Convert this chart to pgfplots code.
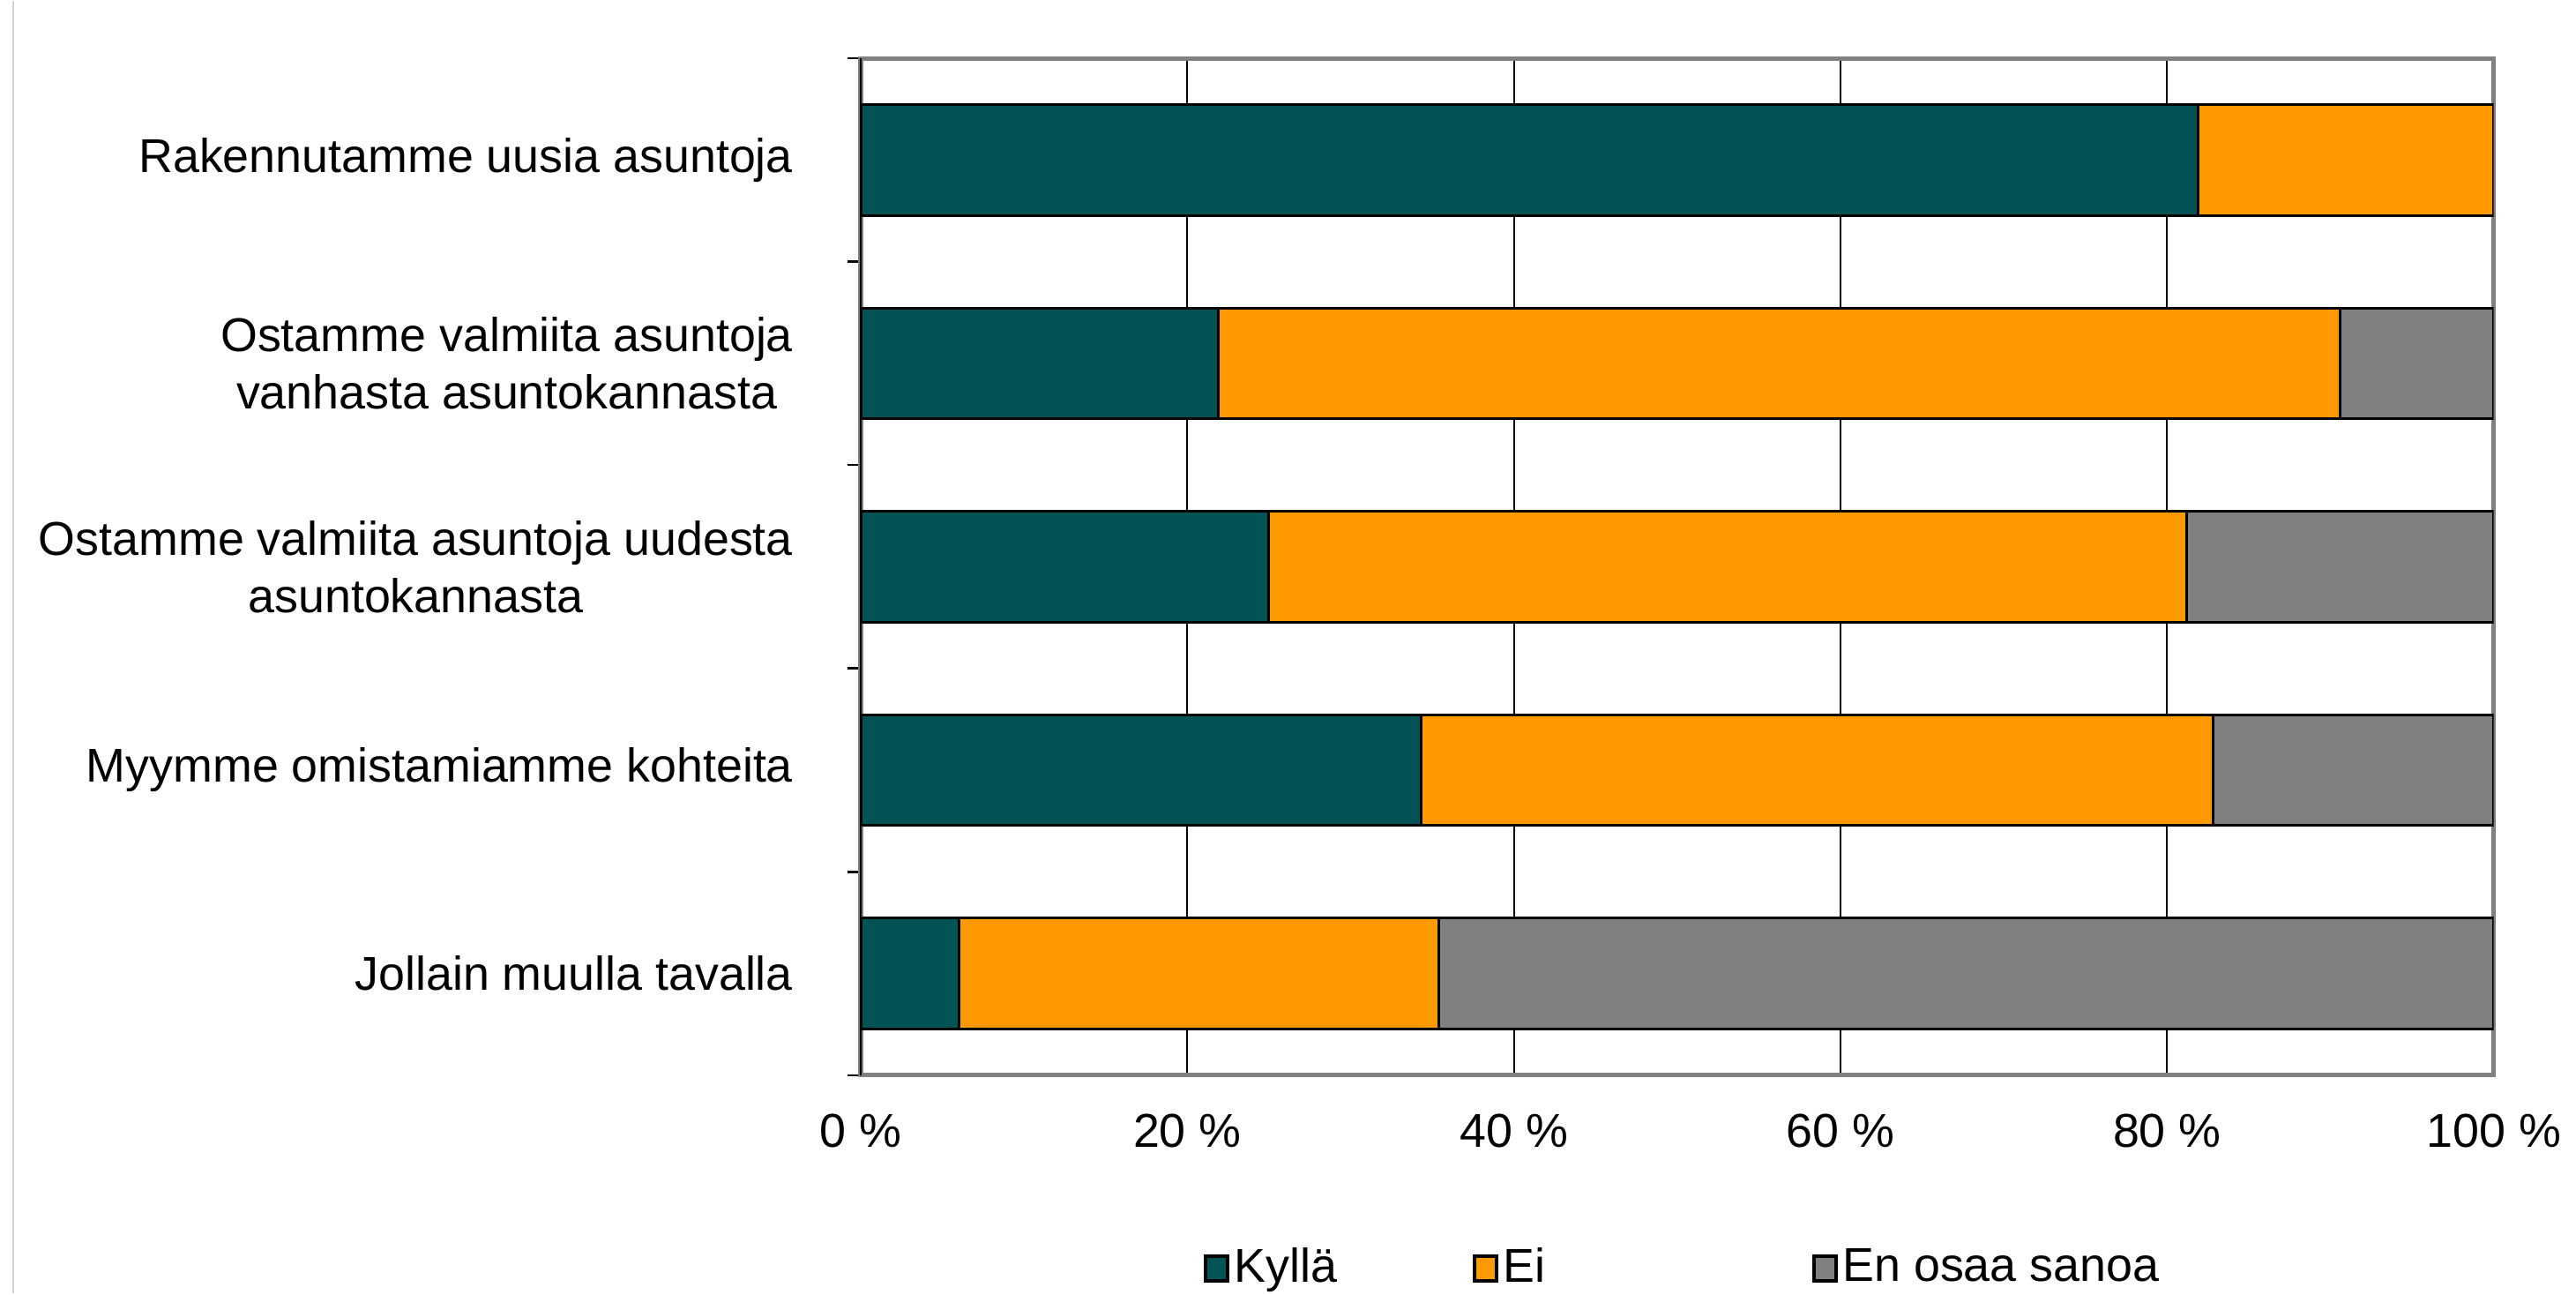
\documentclass[border=0pt]{standalone}
\usepackage{pgfplots}
\pgfplotsset{compat=1.18}
\usepackage{fontspec}
\setmainfont{Liberation Sans}
\definecolor{cteal}{RGB}{2,83,84}
\definecolor{corange}{RGB}{255,153,0}
\definecolor{cgray}{RGB}{128,128,128}
\begin{document}
\begin{tikzpicture}[font=\fontsize{10.5pt}{12.7pt}\selectfont]
\begin{axis}[
 name=ax,
 width=361.4pt, height=225pt, scale only axis,
 xbar stacked,
 bar width=0.545,
 xmin=0, xmax=100,
 ymin=-0.5, ymax=4.5,
 xtick={0,20,...,100},
 xticklabels={0 \%,20 \%,40 \%,60 \%,80 \%,100 \%},
 ytick={0,1,2,3,4},
 yticklabels={Jollain muulla tavalla, Myymme omistamiamme kohteita, {Ostamme valmiita asuntoja uudesta\\asuntokannasta}, {Ostamme valmiita asuntoja\\vanhasta asuntokannasta}, Rakennutamme uusia asuntoja},
 yticklabel style={align=center, xshift=-11.5pt, font=\fontsize{10.5pt}{12.7pt}\selectfont},
 xticklabel style={yshift=-5pt, font=\fontsize{10.5pt}{12.7pt}\selectfont},
 minor ytick={-0.5,0.5,1.5,2.5,3.5,4.5},
 major tick length=0pt,
 minor tick length=3pt,
 tick align=outside,
 tick pos=left,
 minor tick style={black, line width=0.5pt},
 xmajorgrids,
 grid style={black, line width=0.4pt},
 axis line style={draw=gray, line width=1pt},
 legend columns=3,
 legend style={at={(0.5,-0.19)}, anchor=center, xshift=1.4pt, draw=none, fill=none,
   inner sep=0pt, outer sep=0pt,
   font=\fontsize{10.5pt}{12.7pt}\selectfont, nodes={inner sep=1pt}},
 legend image code/.code={\draw[#1, draw=black, line width=0.8pt] (0pt,-2.7pt) rectangle (5pt,2.7pt);},
 every axis plot/.append style={draw=black, line width=0.6pt},
]
\addplot[fill=cteal] coordinates {(6.0,0) (34.3,1) (25.0,2) (21.9,3) (81.9,4)};
\addlegendentry{Kyllä\hspace*{29pt}}
\addplot[fill=corange] coordinates {(29.4,0) (48.5,1) (56.2,2) (68.7,3) (18.1,4)};
\addlegendentry{Ei\hspace*{58pt}}
\addplot[fill=cgray] coordinates {(64.6,0) (17.2,1) (18.8,2) (9.4,3) (0,4)};
\addlegendentry{En osaa sanoa}
\end{axis}
\draw[black, line width=0.5pt] (ax.south west) -- (ax.north west);
\path (ax.south west) ++(-190.5pt,-48.3pt) coordinate (bl);
\path (ax.north east) ++(17.1pt,12.7pt) coordinate (tr);
\path (bl) rectangle (tr);
\draw[gray!35, line width=0.4pt] ([xshift=2.9pt]bl) -- ([xshift=2.9pt]bl |- tr);
\end{tikzpicture}
\end{document}
